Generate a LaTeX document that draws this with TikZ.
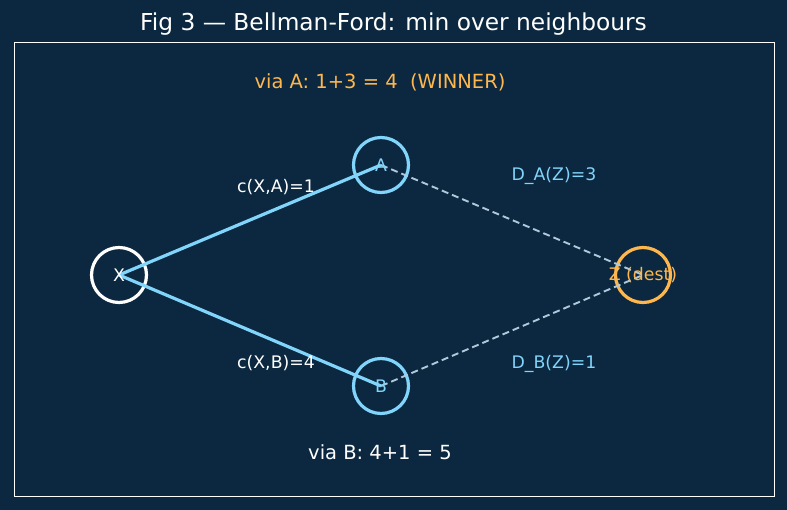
\documentclass[tikz,border=0pt]{standalone}
\usepackage{fontspec}
\setmainfont{DejaVu Sans}
\usetikzlibrary{positioning}
\definecolor{bgnavy}{HTML}{0B2840}
\definecolor{edgeblue}{HTML}{81D4FA}
\definecolor{destorange}{HTML}{FFB74D}
\definecolor{dashgray}{HTML}{B0C8DC}

\tikzset{
	vertex/.style={circle, draw, line width=3.2pt, minimum size=55pt, inner sep=0pt},
	lbl/.style={font=\fontsize{17.3}{20}\selectfont, inner sep=0pt},
	sumlbl/.style={font=\fontsize{19.5}{23}\selectfont, inner sep=0pt},
	cost/.style={edgeblue, line width=3.2pt},
	dist/.style={dashgray, line width=1.9pt, dash pattern=on 7pt off 4pt}
}

\begin{document}
\begin{tikzpicture}[x=1pt, y=-1pt]
		\fill [bgnavy] (0, 0) rectangle (787, 510);
		\useasboundingbox (0, 0) rectangle (787, 510);
		\draw [white, line width=1pt] (14, 43) rectangle (774, 496);
		\node [white, font=\fontsize{23.3}{27}\selectfont] (title) at (393.5, 24) {Fig 3 — Bellman-Ford: min over neighbours};

		% vertices
		\node [vertex, white] (x) at (119, 275) {};
		\node [vertex, edgeblue] (a) at (381, 165) {};
		\node [vertex, edgeblue] (b) at (381, 386) {};
		\node [vertex, destorange] (z) at (643, 275) {};

		% link costs and neighbour distances
		\draw [cost] (x.center) -- (a.center);
		\draw [cost] (x.center) -- (b.center);
		\draw [dist] (a.center) -- (z.center);
		\draw [dist] (b.center) -- (z.center);

		\node [lbl, white] (xname) at (x) {X};
		\node [lbl, edgeblue] (aname) at (a) {A};
		\node [lbl, edgeblue] (bname) at (b) {B};
		\node [lbl, destorange] (zname) at (z) {Z (dest)};

		\node [lbl, white] (cxa) at (276, 187) {c(X,A)=1};
		\node [lbl, white] (cxb) at (276, 363) {c(X,B)=4};
		\node [lbl, edgeblue] (daz) at (554, 176) {D\_A(Z)=3};
		\node [lbl, edgeblue] (dbz) at (554, 364) {D\_B(Z)=1};

		% the two candidate sums
		\node [sumlbl, destorange] (viaa) at (380, 82) {via A: 1+3 = 4\ \ (WINNER)};
		\node [sumlbl, white] (viab) at (380, 452) {via B: 4+1 = 5};
	\end{tikzpicture}
\end{document}
